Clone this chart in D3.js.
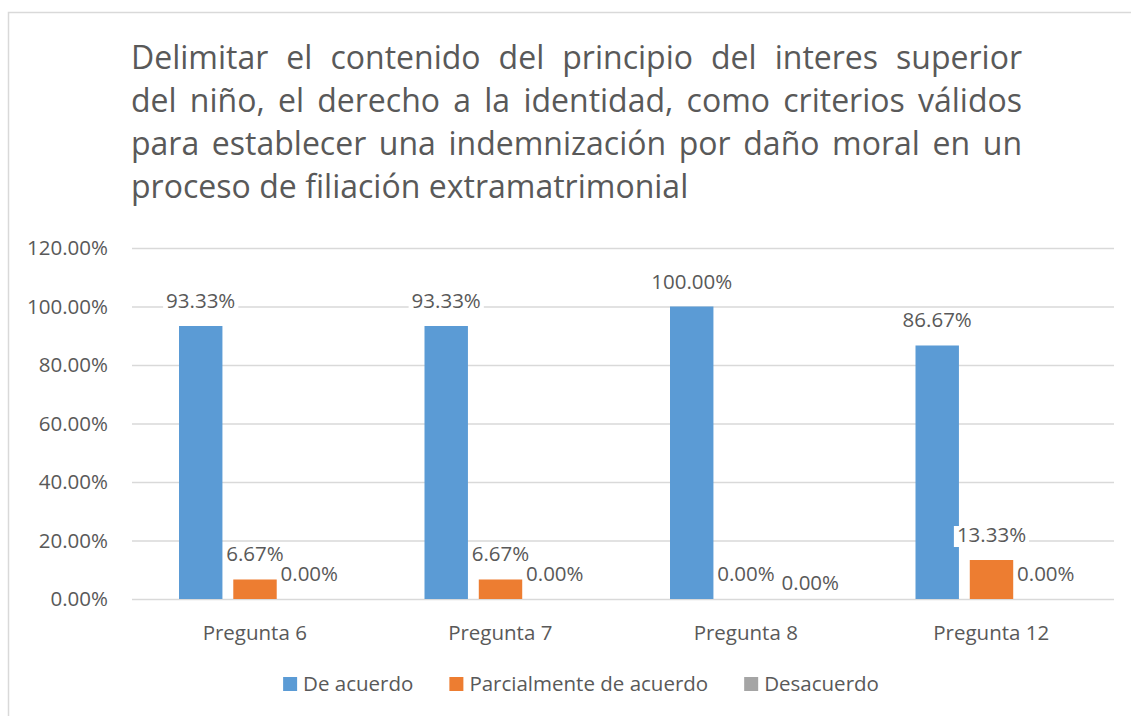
<!DOCTYPE html>
<html>
<head>
<meta charset="utf-8">
<script src="https://cdn.jsdelivr.net/npm/d3@7"></script>
<style>
  body { margin: 0; background: #fff; }
  text { font-family: "Open Sans", "Noto Sans", sans-serif; fill: #595959; }
</style>
</head>
<body>
<script>
// datos
var categorias = ["Pregunta 6", "Pregunta 7", "Pregunta 8", "Pregunta 12"];
var series = ["De acuerdo", "Parcialmente de acuerdo", "Desacuerdo"];
var deAcuerdo = [0.9333, 0.9333, 1.0, 0.8667];
var parcialmente = [0.0667, 0.0667, 0, 0.1333];
var desacuerdo = [0, 0, 0, 0];
var yTicks = [0, 0.2, 0.4, 0.6, 0.8, 1.0, 1.2];
var tituloLineas = [
  "Delimitar el contenido del principio del interes superior",
  "del niño, el derecho a la identidad, como criterios válidos",
  "para establecer una indemnización por daño moral en un",
  "proceso de filiación extramatrimonial"
];

var colores = ["#5B9BD5", "#ED7D31", "#A5A5A5"];
var valores = [deAcuerdo, parcialmente, desacuerdo];

var W = 1131, H = 716;
var plot = {left: 132, right: 1114, top: 248, bottom: 599};
var fs = "20.5px";

var svg = d3.select("body").append("svg")
    .attr("width", W)
    .attr("height", H);

// borde del grafico
svg.append("rect")
    .attr("x", 8.5).attr("y", 12.5)
    .attr("width", W + 20).attr("height", H + 20)
    .attr("fill", "none")
    .attr("stroke", "#d9d9d9")
    .attr("stroke-width", 1.5);

// titulo justificado
var tx0 = 131, tx1 = 1022;
var baselines = [69, 112, 155, 198];
tituloLineas.forEach(function (linea, i) {
    var palabras = linea.split(" ");
    var g = svg.append("g");
    var nodos = palabras.map(function (p) {
        return g.append("text")
            .attr("y", baselines[i])
            .style("font-size", "32px")
            .text(p);
    });
    var anchos = nodos.map(function (n) { return n.node().getComputedTextLength(); });
    var total = d3.sum(anchos);
    var esp = (i < tituloLineas.length - 1)
        ? (tx1 - tx0 - total) / (palabras.length - 1)
        : 8.5;
    var x = tx0;
    nodos.forEach(function (n, j) {
        n.attr("x", x);
        x += anchos[j] + esp;
    });
});

// escalas
var y = d3.scaleLinear().domain([0, 1.2]).range([plot.bottom, plot.top]);
var x0 = d3.scaleBand().domain(categorias).range([plot.left, plot.right]).padding(0);
var x1 = d3.scaleBand().domain(series)
    .range([47, x0.bandwidth() - 46.5])
    .paddingInner(0.2).paddingOuter(0);

// eje y con lineas de cuadricula
var ejeY = svg.append("g")
    .attr("transform", "translate(" + plot.left + ",0)")
    .call(d3.axisLeft(y).tickValues(yTicks)
        .tickFormat(d3.format(".2%"))
        .tickSizeInner(-(plot.right - plot.left))
        .tickSizeOuter(0)
        .tickPadding(24));
ejeY.select(".domain").remove();
ejeY.selectAll("line").attr("stroke", "#d9d9d9").attr("stroke-width", 1.5);
ejeY.selectAll("text")
    .style("font-size", fs)
    .style("font-family", "'Open Sans', sans-serif")
    .attr("fill", "#595959");

// eje x
var ejeX = svg.append("g")
    .attr("transform", "translate(0," + plot.bottom + ")")
    .call(d3.axisBottom(x0).tickSize(0).tickPadding(26));
ejeX.select(".domain").remove();
ejeX.selectAll("text")
    .style("font-size", fs)
    .style("font-family", "'Open Sans', sans-serif")
    .attr("fill", "#595959");

// barras
series.forEach(function (s, k) {
    svg.append("g").selectAll("rect")
        .data(valores[k])
        .enter()
        .append("rect")
        .attr("x", function (d, i) { return x0(categorias[i]) + x1(s); })
        .attr("y", function (d) { return y(d); })
        .attr("width", x1.bandwidth())
        .attr("height", function (d) { return plot.bottom - y(d); })
        .attr("fill", colores[k]);
});

// etiquetas de datos (con fondo blanco, en orden de serie)
var fmt = d3.format(".2%");
var etiquetas = svg.append("g");
var colocadas = [];
series.forEach(function (s, k) {
    valores[k].forEach(function (d, i) {
        var cx = x0(categorias[i]) + x1(s) + x1.bandwidth() / 2;
        var by = y(d) - 18;
        var g = etiquetas.append("g");
        var bg = g.append("rect").attr("fill", "#fff");
        var t = g.append("text")
            .attr("text-anchor", "middle")
            .style("font-size", fs)
            .text(fmt(d));
        var w = t.node().getComputedTextLength();
        // si choca con otra etiqueta en la misma altura, bajar un poco
        colocadas.forEach(function (c) {
            if (Math.abs(c.y - by) < 1 && Math.abs(c.x - cx) < (c.w + w) / 2) {
                by += 9;
                cx += 10;
            }
        });
        t.attr("x", cx).attr("y", by);
        bg.attr("x", cx - w / 2 - 3).attr("y", by - 16)
            .attr("width", w + 6).attr("height", 21);
        colocadas.push({x: cx, y: by, w: w});
    });
});

// leyenda
var leyenda = svg.append("g");
var lx = 0;
series.forEach(function (s, k) {
    var g = leyenda.append("g").attr("transform", "translate(" + lx + ",0)");
    g.append("rect")
        .attr("x", 0).attr("y", 677)
        .attr("width", 14).attr("height", 14)
        .attr("fill", colores[k]);
    var t = g.append("text")
        .attr("x", 20).attr("y", 691)
        .style("font-size", fs)
        .text(s);
    lx += 20 + t.node().getComputedTextLength() + 36;
});
var totalLeyenda = lx - 36;
leyenda.attr("transform", "translate(" + (581 - totalLeyenda / 2) + ",0)");
</script>
</body>
</html>
